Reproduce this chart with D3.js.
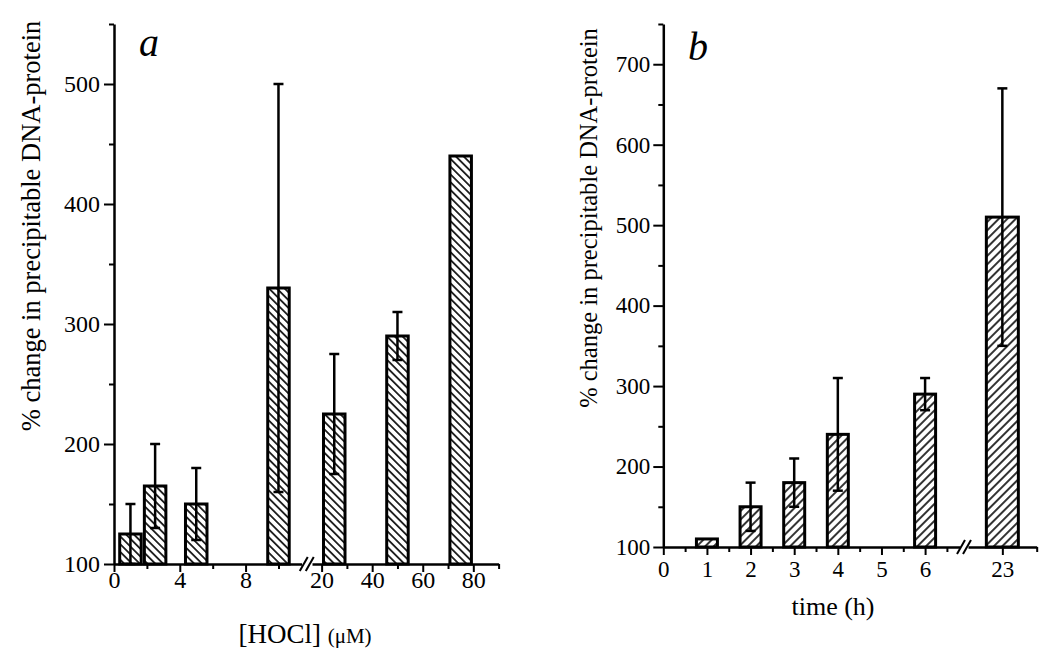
<!DOCTYPE html>
<html>
<head>
<meta charset="utf-8">
<script src="https://cdn.jsdelivr.net/npm/d3@7"></script>
<style>
  body { margin: 0; background: #fff; }
  svg { display: block; font-family: "Liberation Serif", "Times New Roman", serif; }
</style>
</head>
<body>
<div id="chart"></div>
<script>

// panel a : HOCl dose
var hoclDose   = [1, 2.5, 5, 10, 25, 50, 75];
var hoclChange = [125, 165, 150, 330, 225, 290, 440];
var hoclErr    = [25, 35, 30, 170, 50, 20, 0];
var hoclMajorLow  = [0, 4, 8];
var hoclMinorLow  = [2, 6, 10];
var hoclMajorHigh = [20, 40, 60, 80];
var hoclMinorHigh = [30, 50, 70, 90];
var yMajorA = [100, 200, 300, 400, 500];
var yMinorA = [150, 250, 350, 450, 550];

// panel b : time course
var timeHours  = [1, 2, 3, 4, 6, 23];
var timeChange = [110, 150, 180, 240, 290, 510];
var timeErr    = [0, 30, 30, 70, 20, 160];
var timeMajorLow  = [0, 1, 2, 3, 4, 5, 6];
var timeMinorLow  = [0.5, 1.5, 2.5, 3.5, 4.5, 5.5, 6.5];
var timeMajorHigh = [23];
var timeMinorHigh = [23.8];
var yMajorB = [100, 200, 300, 400, 500, 600, 700];
var yMinorB = [150, 250, 350, 450, 550, 650, 750];

var yTitle = "% change in precipitable DNA-protein";
var fmt = d3.format("d");

var svg = d3.select("#chart").append("svg")
	.attr("width", 1050)
	.attr("height", 665);

// hatch patterns
var defs = svg.append("defs");
function hatch(id, angle, gap){
	var p = defs.append("pattern")
		.attr("id", id)
		.attr("patternUnits", "userSpaceOnUse")
		.attr("width", gap).attr("height", gap)
		.attr("patternTransform", "rotate(" + angle + ")");
	p.append("rect").attr("width", gap).attr("height", gap).attr("fill", "#fff");
	p.append("line")
		.attr("x1", gap / 2).attr("y1", 0).attr("x2", gap / 2).attr("y2", gap)
		.attr("stroke", "#000").attr("stroke-width", 1.6);
}
hatch("hatchA", -45, 5.5);
hatch("hatchB", 45, 6);

function drawPanel(o){
	var g = svg.append("g");

	var y = d3.scaleLinear().domain(o.yDomain).range(o.yRange);
	var segs = o.segments.map(function(s){
		return { scale: d3.scaleLinear().domain(s.domain).range(s.range), s: s };
	});
	function xPos(v){
		for (var i = 0; i < segs.length; i++){
			var d = segs[i].scale.domain();
			if (v >= d[0] && v <= d[1]) return segs[i].scale(v);
		}
	}

	// bars
	var base = y(o.yDomain[0]);
	o.x.forEach(function(v, i){
		var w = o.barWidth(i);
		g.append("rect")
			.attr("x", xPos(v) - w / 2)
			.attr("y", y(o.values[i]))
			.attr("width", w)
			.attr("height", base - y(o.values[i]))
			.attr("fill", "url(#" + o.pattern + ")")
			.attr("stroke", "#000")
			.attr("stroke-width", 3);
	});

	// error bars
	o.x.forEach(function(v, i){
		var e = o.errs[i];
		if (!e) return;
		var cx = xPos(v), lo = y(o.values[i] - e), hi = y(o.values[i] + e);
		g.append("line").attr("x1", cx).attr("x2", cx).attr("y1", lo).attr("y2", hi)
			.attr("stroke", "#000").attr("stroke-width", 2.5);
		[lo, hi].forEach(function(yy){
			g.append("line").attr("x1", cx - 5).attr("x2", cx + 5).attr("y1", yy).attr("y2", yy)
				.attr("stroke", "#000").attr("stroke-width", 2.5);
		});
	});

	// x axis segments
	segs.forEach(function(sg){
		var ax = g.append("g").attr("transform", "translate(0," + base + ")");
		ax.call(d3.axisBottom(sg.scale).tickValues(sg.s.major).tickFormat(fmt).tickSize(8)
			.tickPadding(o.xPad).tickSizeOuter(0));
		ax.append("g").call(d3.axisBottom(sg.scale).tickValues(sg.s.minor).tickSize(5)
			.tickFormat("")).select(".domain").remove();
		ax.selectAll(".domain").attr("stroke-width", 2.5);
		ax.selectAll(".tick line").attr("stroke-width", 2);
		ax.selectAll(".tick text").attr("font-size", o.tickFont).attr("font-family", "Liberation Serif");
	});

	// break marks
	var bx = (segs[0].scale.range()[1] + segs[1].scale.range()[0]) / 2;
	[-3, 3].forEach(function(dx){
		g.append("line")
			.attr("x1", bx + dx - 4).attr("y1", base + 7)
			.attr("x2", bx + dx + 4).attr("y2", base - 7)
			.attr("stroke", "#000").attr("stroke-width", 2);
	});

	// y axis
	var x0 = segs[0].scale.range()[0];
	var ay = g.append("g").attr("transform", "translate(" + x0 + ",0)");
	ay.call(d3.axisLeft(y).tickValues(o.yMajor).tickFormat(fmt).tickSize(10)
		.tickPadding(o.yPad).tickSizeOuter(0));
	ay.append("g").call(d3.axisLeft(y).tickValues(o.yMinor).tickSize(5).tickFormat(""))
		.select(".domain").remove();
	ay.selectAll(".domain").attr("stroke-width", 2.5);
	ay.selectAll(".tick line").attr("stroke-width", 2);
	ay.selectAll(".tick text").attr("font-size", o.tickFont).attr("font-family", "Liberation Serif");

	// titles
	g.append("text")
		.attr("transform", "translate(" + o.yTitleX + "," + o.yTitleY + ") rotate(-90)")
		.attr("text-anchor", "middle")
		.attr("font-size", o.yTitleFont)
		.text(yTitle);

	g.append("text")
		.attr("x", o.letterX).attr("y", o.letterY)
		.attr("font-size", 40).attr("font-style", "italic")
		.text(o.letter);

	return g;
}

var ga = drawPanel({
	yDomain: [100, 550], yRange: [564, 24],
	segments: [
		{ domain: [0, 11.4], range: [114, 301.5], major: hoclMajorLow, minor: hoclMinorLow },
		{ domain: [16.2, 90], range: [312, 498.6], major: hoclMajorHigh, minor: hoclMinorHigh }
	],
	x: hoclDose, values: hoclChange, errs: hoclErr,
	barWidth: function(){ return 21.5; },
	pattern: "hatchA",
	yMajor: yMajorA, yMinor: yMinorA,
	xPad: -1, yPad: 4, tickFont: 24,
	yTitleX: 40, yTitleY: 226, yTitleFont: 26.5,
	letter: "a", letterX: 139, letterY: 56
});

ga.append("text")
	.attr("x", 305).attr("y", 643)
	.attr("text-anchor", "middle")
	.attr("font-size", 27)
	.text("[HOCl] ")
	.append("tspan").attr("font-size", 21).text("(\u03BCM)");

var gb = drawPanel({
	yDomain: [100, 750], yRange: [547, 24],
	segments: [
		{ domain: [0, 6.8], range: [663.3, 960], major: timeMajorLow, minor: timeMinorLow },
		{ domain: [22.2, 23.8], range: [968, 1036.7], major: timeMajorHigh, minor: timeMinorHigh }
	],
	x: timeHours, values: timeChange, errs: timeErr,
	barWidth: function(i){ return timeHours[i] > 20 ? 32 : 21; },
	pattern: "hatchB",
	yMajor: yMajorB, yMinor: yMinorB,
	xPad: 6, yPad: 3, tickFont: 23,
	yTitleX: 597, yTitleY: 218, yTitleFont: 24.5,
	letter: "b", letterX: 688, letterY: 60
});

gb.append("text")
	.attr("x", 833).attr("y", 615)
	.attr("text-anchor", "middle")
	.attr("font-size", 26)
	.text("time (h)");

</script>
</body>
</html>
